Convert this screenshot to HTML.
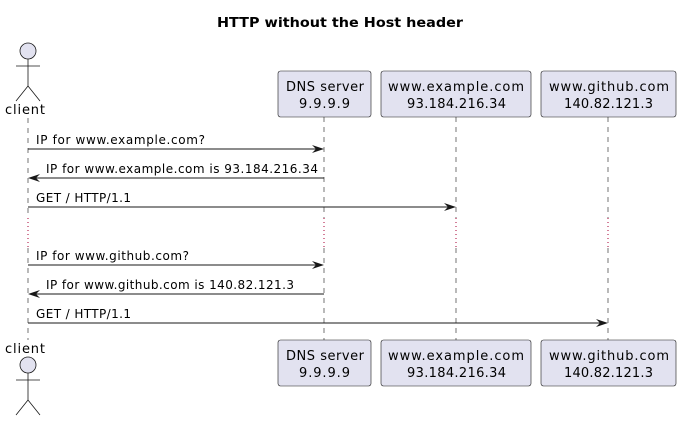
<!DOCTYPE html>
<html><head><style>body{margin:0;background:#fff}</style></head><body>
<svg width="681" height="421" xmlns="http://www.w3.org/2000/svg" font-family="DejaVu Sans, sans-serif">
<text x="217" y="27" textLength="246" lengthAdjust="spacingAndGlyphs" font-weight="bold" font-size="13">HTTP without the Host header</text>
<g stroke="#181818" stroke-width="0.6" stroke-dasharray="5,5">
<line x1="28" y1="118" x2="28" y2="218"/><line x1="28" y1="248" x2="28" y2="340"/>
<line x1="324" y1="117" x2="324" y2="218"/><line x1="324" y1="248" x2="324" y2="340"/>
<line x1="456" y1="117" x2="456" y2="218"/><line x1="456" y1="248" x2="456" y2="340"/>
<line x1="608" y1="117" x2="608" y2="218"/><line x1="608" y1="248" x2="608" y2="340"/>
</g>
<g stroke="#a80036" stroke-width="1" stroke-dasharray="1,3">
<line x1="28" y1="218" x2="28" y2="248"/><line x1="324" y1="218" x2="324" y2="248"/>
<line x1="456" y1="218" x2="456" y2="248"/><line x1="608" y1="218" x2="608" y2="248"/>
</g>
<g fill="#e2e2f0" stroke="#181818" stroke-width="0.6">
<rect x="278" y="71" width="93" height="46" rx="2.5"/><rect x="381" y="71" width="150" height="46" rx="2.5"/><rect x="541" y="71" width="135" height="46" rx="2.5"/>
<rect x="278" y="340" width="93" height="46" rx="2.5"/><rect x="381" y="340" width="150" height="46" rx="2.5"/><rect x="541" y="340" width="135" height="46" rx="2.5"/>
</g>
<g font-size="13" fill="#000" lengthAdjust="spacingAndGlyphs">
<text x="286" y="91" textLength="78">DNS server</text><text x="299" y="108" textLength="51">9.9.9.9</text>
<text x="388" y="91" textLength="136">www.example.com</text><text x="407" y="108" textLength="99">93.184.216.34</text>
<text x="549" y="91" textLength="120">www.github.com</text><text x="564" y="108" textLength="89">140.82.121.3</text>
<text x="286" y="360" textLength="78">DNS server</text><text x="299" y="377" textLength="51">9.9.9.9</text>
<text x="388" y="360" textLength="136">www.example.com</text><text x="407" y="377" textLength="99">93.184.216.34</text>
<text x="549" y="360" textLength="120">www.github.com</text><text x="564" y="377" textLength="89">140.82.121.3</text>
<text x="5" y="114" textLength="40">client</text><text x="5" y="353" textLength="40">client</text>
</g>
<g fill="#e2e2f0" stroke="#181818" stroke-width="0.8">
<circle cx="28" cy="51" r="8"/><path d="M28 59V86M16 66H40M16 101L28 86L40 101" fill="none"/>
<circle cx="28" cy="365" r="8"/><path d="M28 373V400M16 380H40M16 415L28 400L40 415" fill="none"/>
</g>
<g stroke="#181818" stroke-width="1">
<line x1="28" y1="149" x2="322" y2="149"/><line x1="30" y1="178" x2="324" y2="178"/>
<line x1="28" y1="207" x2="454" y2="207"/><line x1="28" y1="265" x2="322" y2="265"/>
<line x1="30" y1="294" x2="324" y2="294"/><line x1="28" y1="323" x2="606" y2="323"/>
</g>
<g fill="#181818">
<path d="M324 149l-12-4 4 4-4 4z"/><path d="M28 178l12-4-4 4 4 4z"/><path d="M456 207l-12-4 4 4-4 4z"/>
<path d="M324 265l-12-4 4 4-4 4z"/><path d="M28 294l12-4-4 4 4 4z"/><path d="M608 323l-12-4 4 4-4 4z"/>
</g>
<g font-size="12" fill="#000" lengthAdjust="spacingAndGlyphs">
<text x="36" y="144" textLength="169">IP for www.example.com?</text>
<text x="46" y="173" textLength="272">IP for www.example.com is 93.184.216.34</text>
<text x="36" y="202" textLength="95">GET / HTTP/1.1</text>
<text x="36" y="260" textLength="153">IP for www.github.com?</text>
<text x="46" y="289" textLength="248">IP for www.github.com is 140.82.121.3</text>
<text x="36" y="318" textLength="95">GET / HTTP/1.1</text>
</g>
</svg>
</body></html>
